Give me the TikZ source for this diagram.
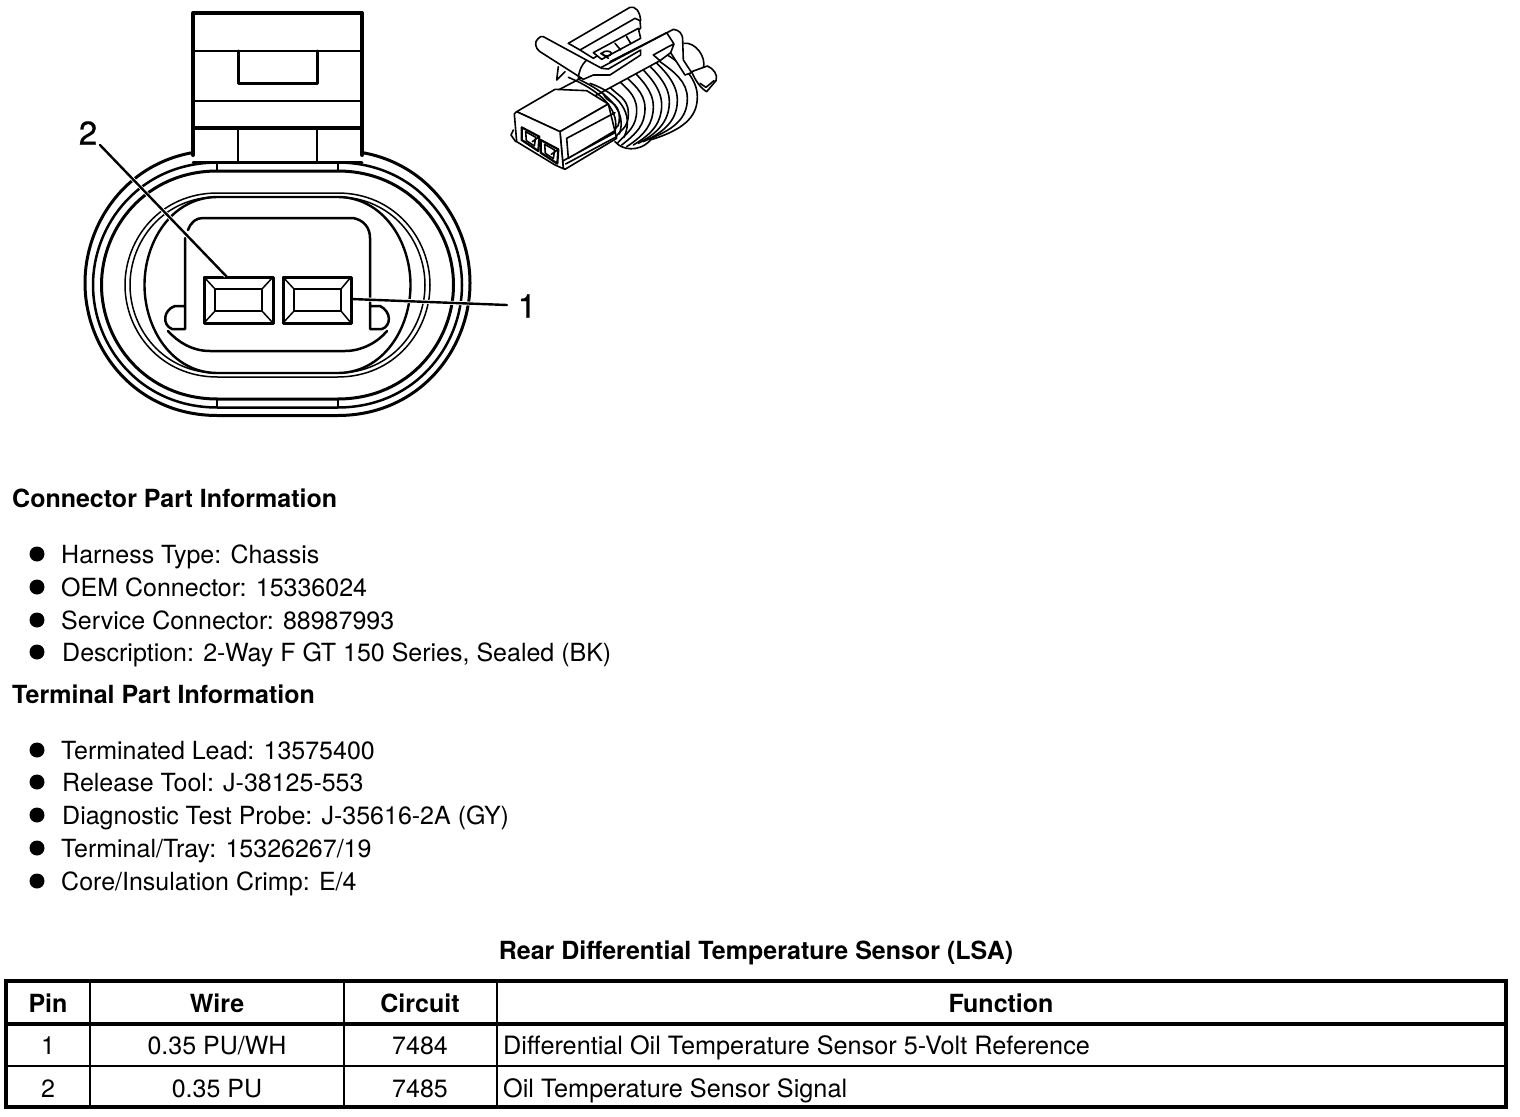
\documentclass[tikz,border=0pt]{standalone}
\usepackage{fontspec}
\setmainfont{TeX Gyre Heros}
\newfontfamily\calloutfont[FakeBold=0.6]{TeX Gyre Heros}
% style, cx, cy, half width, half height
\newcommand{\ovalring}[5]{%
 \pgfmathsetmacro{\ff}{60/#4}
 \pgfmathsetmacro{\gg}{\ff+(1-\ff)*0.62}
 \draw[#1,shift={(#2,#3)},xscale=#4,yscale=#5]
 (-\ff,-1) .. controls (-\gg,-1) and (-1,-.5) .. (-1,0)
 .. controls (-1,.5) and (-\gg,1) .. (-\ff,1) -- (\ff,1)
 .. controls (\gg,1) and (1,.5) .. (1,0)
 .. controls (1,-.5) and (\gg,-1) .. (\ff,-1) -- cycle;}
\tikzset{
 x=1pt,y=-1pt,
 ln/.style={line width=#1,line join=round,line cap=round},
 iso/.style={line width=1.6pt,line join=round,line cap=round},
 txt/.style={anchor=base west,inner sep=0pt,font=\fontsize{25}{28}\selectfont},
 wide/.style={anchor=base west,inner sep=0pt,font=\fontsize{25.25}{28}\selectfont},
 hdr/.style={anchor=base west,inner sep=0pt,font=\fontsize{25}{28}\selectfont\bfseries},
 cell/.style={anchor=base,inner sep=0pt,font=\fontsize{25}{28}\selectfont},
 hcell/.style={anchor=base,inner sep=0pt,font=\fontsize{25}{28}\selectfont\bfseries},
 dot/.style={circle,fill=black,inner sep=0pt,minimum size=15pt},
 callout/.style={anchor=center,inner sep=0pt,font=\calloutfont\fontsize{33}{36}\selectfont},
}
\begin{document}
\begin{tikzpicture}
\useasboundingbox[fill=white] (0,0) rectangle (1520,1116);
% rings
\ovalring{ln=3}{277.5}{283}{192.5}{132.5}
\ovalring{ln=2.5}{277.5}{285}{184.5}{122.5}
\ovalring{ln=3}{277.5}{285}{176}{114}
\ovalring{ln=1.5}{277.5}{285}{152.5}{92}
\ovalring{ln=1.5}{277.5}{285}{147.5}{88}
\ovalring{ln=2.4}{277.5}{285}{133}{88}
% tab
\fill[white] (193,13) rectangle (362,162);
\draw[ln=4] (193,155) -- (193,13) -- (362,13) -- (362,155);
\draw[ln=2.5] (193,51) -- (362,51) (193,101) -- (362,101);
\draw[ln=3.5] (193,128) -- (362,128);
\draw[ln=3] (238,51) -- (238,83) -- (317,83) -- (317,51);
\draw[ln=2.5] (238,128) -- (238,162) (317,128) -- (317,162);
\draw[ln=2.5] (193,162.5) -- (362,162.5);
\draw[ln=2.5] (217,162) -- (217,171) (338,162) -- (338,171) (217,399) -- (217,407) (338,399) -- (338,407);
% inner body
\draw[ln=2.5] (188,230) .. controls (191,222) and (196,218) .. (203,218) -- (353,218)
 .. controls (364,220) and (370,228) .. (370,238) -- (370,329) -- (382,329)
 .. controls (391,326) and (392,312) .. (380,306) -- (370,306);
\draw[ln=2.5] (185,238) -- (185,329) -- (172,329) .. controls (162,325) and (163,310) .. (175,306) -- (185,306);
\draw[ln=2.5] (168,331) .. controls (178,342) and (192,351) .. (210,351) -- (345,351) .. controls (362,351) and (378,342) .. (387,331);
% terminals
\foreach \a/\b/\c/\d [count=\i] in {204/215/262/273,283/294/341/351}{
 \draw[ln=3] (\a,277) rectangle (\d,323);
 \draw[ln=2.5] (\b,289) rectangle (\c,311);
 \draw[ln=1.5] (\a,277) -- (\b,289) (\d,277) -- (\c,289) (\a,323) -- (\b,311) (\d,323) -- (\c,311);
}
% callouts
\node[callout] (c2) at (88,133) {2};
\node[callout] (c1) at (527,306) {1};
\coordinate (t2) at (227,277);
\coordinate (t1) at (351,299);
\coordinate (s2) at (100,145);
\coordinate (s1) at (507,305);
\draw[white,line width=4] (s2) -- (226,276);
\draw[white,line width=4] (353,299) -- (s1);
\draw[ln=2.4] (s2) -- (t2);
\draw[ln=2.4] (t1) -- (s1);
% iso connector: ribs and rear plug (zoom-3 frame)
\begin{scope}[xshift=610pt,yshift=-30pt,x=0.3333pt,y=-0.3333pt]
 \draw[iso] (222,40) .. controls (255,35) and (290,80) .. (280,115);
 \draw[iso,fill=white] (245,125) -- (292,108) .. controls (310,115) and (325,135) .. (318,152) -- (290,185) .. controls (272,175) and (255,150) .. (245,125);
 \draw[iso] (270,160) -- (288,172) -- (312,152);
 \foreach \sx/\sy/\ax/\ay/\ex/\ey in {
  172/75/262/200/120/330,
  150/95/232/205/115/328,
  130/90/202/210/100/335,
  108/97/178/215/85/340,
  85/105/155/225/70/345,
  62/115/130/230/50/350,
  38/130/105/235/35/345,
  15/140/80/240/22/340,
  -5/165/55/250/12/330,
  -20/190/28/262/8/318}{
  \draw[iso] (\sx,\sy) .. controls ({\ax-40},{\sy+30}) and (\ax,{\ay-50}) .. (\ax,\ay)
   .. controls (\ax,{\ay+50}) and ({\ax-25},{\ey-35}) .. (\ex,\ey);
 }
 \draw[iso] (15,335) .. controls (35,360) and (85,368) .. (120,332);
 % front rail end
 \draw[iso,fill=white] (-170,188) -- (190,-2) .. controls (205,0) and (218,8) .. (218,30) -- (220,90) -- (245,128) -- (225,135) -- (182,68) -- (150,92) -- (-40,195) -- (-90,222) -- cycle;
 \draw[iso] (0,95) -- (170,8) -- (192,42) -- (175,50) -- (130,75) (192,42) -- (182,68) (150,92) -- (130,75);
\end{scope}
% long ribs, first-zoom frame
\begin{scope}[xshift=500pt,x=0.3333pt,y=-0.3333pt]
 \foreach \ax/\ay/\bx/\by/\cx/\cy/\dx/\dy in {
  270/250/355/280/405/340/372/412,
  240/240/335/285/380/340/358/402,
  205/232/320/280/358/340/345/395}{
  \draw[iso] (\ax,\ay) .. controls (\bx,\by) and (\cx,\cy) .. (\dx,\dy);
 }
\end{scope}
% lever and rear rail (zoom-2 frame)
\begin{scope}[xshift=530pt,x=0.3333pt,y=-0.3333pt]
 \draw[iso] (85,200) -- (80,240) -- (105,215);
 \draw[iso,fill=white] (150,150) -- (315,55) -- (330,62) -- (332,85) -- (230,150) -- (190,175) -- cycle;
 \draw[iso] (115,130) -- (300,22) .. controls (315,18) and (330,32) .. (332,62);
 \draw[iso] (115,130) -- (150,150);
 \draw[iso,fill=white] (190,158) -- (325,85) -- (332,115) -- (215,178) -- cycle;
 \draw[iso] (212,160) -- (235,175) (255,130) -- (272,150) (290,110) -- (302,130);
 \draw[iso] (215,160) .. controls (225,150) and (240,152) .. (245,160) .. controls (240,170) and (225,172) .. (215,160);
 \draw[iso,fill=white] (40,110) -- (215,205) -- (235,207) -- (332,150) -- (332,165) -- (240,225) -- (190,225) -- (160,238) -- (30,155) .. controls (15,145) and (12,125) .. (25,115) .. controls (30,110) and (35,108) .. (40,110) -- cycle;
 \draw[iso] (145,238) .. controls (146,212) and (155,195) .. (168,182);
\end{scope}
% housing (zoom-1 frame)
\begin{scope}[xshift=505pt,yshift=-90pt,x=0.3333pt,y=-0.3333pt]
 \draw[iso,fill=white] (35,65) -- (150,-2) -- (245,2) -- (310,42) -- (165,125) -- cycle;
 \draw[iso,fill=white] (165,125) -- (310,42) -- (335,145) -- (180,238) -- (175,235) -- cycle;
 \draw[iso,fill=white] (35,65) -- (28,72) -- (35,155) -- (150,225) -- (175,236) -- (165,125) -- cycle;
 \draw[iso] (25,120) -- (18,135) -- (32,155);
 \draw[iso] (185,145) -- (330,68) (185,145) -- (190,205) -- (330,122) (175,212) -- (330,128) (182,222) -- (335,140);
 \foreach \dx/\dy in {0/0,57/38}{
  \begin{scope}[shift={(\dx,\dy)}]
  \draw[iso,line width=2.2pt] (50,112) -- (103,140) -- (100,183) -- (50,150) -- cycle;
  \draw[iso] (62,125) -- (92,142) -- (88,168) -- (64,152) -- cycle (82,155) -- (103,140);
  \end{scope}
 }
\end{scope}
% text
\node[hdr] (h1) at (12,507) {Connector Part Information};
\foreach \n/\y/\x/\t in {a/563/61/{Harness Type: Chassis},b/596/61/{OEM Connector: 15336024},c/629/61/{Service Connector: 88987993},d/661/62/{Description: 2-Way F GT 150 Series, Sealed (BK)},e/759/61/{Terminated Lead: 13575400},f/791/62/{Release Tool: J-38125-553},g/824/62/{Diagnostic Test Probe: J-35616-2A (GY)},h/857/61/{Terminal/Tray: 15326267/19},i/890/61/{Core/Insulation Crimp: E/4}}{
 \node[txt] (t\n) at (\x,\y) {\t};
 \node[dot] (d\n) at (37,\y-9) {};
}
\node[hdr] (h2) at (12,703) {Terminal Part Information};
\node[hcell] (title) at (756,959) {Rear Differential Temperature Sensor (LSA)};
% table
\draw[line width=4pt] (6,981) rectangle (1506,1107);
\draw[line width=4pt] (6,1023.5) -- (1506,1023.5);
\draw[line width=2.5pt] (6,1066) -- (1506,1066);
\draw[line width=2pt] (90,981) -- (90,1107) (343.5,981) -- (343.5,1107) (497,981) -- (497,1107);
\node[hcell] (p0) at (48,1012) {Pin};
\node[hcell] (w0) at (217,1012) {Wire};
\node[hcell] (k0) at (420,1012) {Circuit};
\node[hcell] (f0) at (1001,1012) {Function};
\node[cell] (p1) at (48,1054) {1};
\node[cell] (w1) at (217,1054) {0.35 PU/WH};
\node[cell] (k1) at (420,1054) {7484};
\node[wide] (f1) at (503,1054) {Differential Oil Temperature Sensor 5-Volt Reference};
\node[cell] (p2) at (48,1097) {2};
\node[cell] (w2) at (217,1097) {0.35 PU};
\node[cell] (k2) at (420,1097) {7485};
\node[wide] (f2) at (503,1097) {Oil Temperature Sensor Signal};
\end{tikzpicture}
\end{document}
